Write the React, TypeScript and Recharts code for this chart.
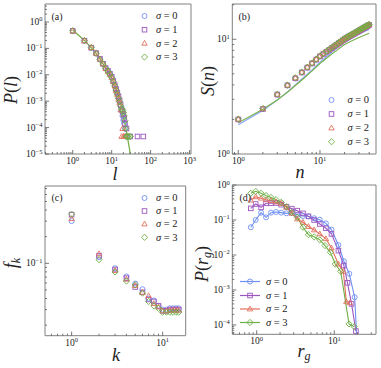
import React from 'react';
import { ComposedChart, Scatter, Line, XAxis, YAxis, ReferenceArea } from 'recharts';

const W = 381;
const H = 368;
const SERIF = '"Liberation Serif", "Times New Roman", serif';
const AXIS_COLOR = '#555';
const FRAME = '#808080';
const TEXT = '#222';
const COLORS = ['#6f8ff2', '#9c56c0', '#e2705e', '#6db044'];
const KINDS = ['circle', 'square', 'triangle', 'diamond'];
const SIGMAS = ['0', '1', '2', '3'];

// ---------- (a) P(l) ----------
const lA0 = [1, 2, 3, 4, 5, 6, 7, 8, 9, 10, 11, 12, 13, 14, 15, 16, 17, 18, 19, 20, 21, 22, 23, 25];
const pA0 = [0.46, 0.195, 0.107, 0.065, 0.039, 0.026, 0.0177, 0.0139, 0.0107, 0.0081, 0.0056, 0.0039, 0.0027, 0.0019, 0.0013, 0.00094, 0.00064, 0.00045, 0.00028, 0.00019, 0.00014, 0.000092, 0.000046, 0.000046];
const lA1 = [1, 2, 3, 4, 5, 6, 7, 8, 9, 10, 11, 12, 13, 14, 15, 16, 17, 18, 19, 20, 21, 22, 24, 30, 46, 65];
const pA1 = [0.46, 0.196, 0.106, 0.066, 0.04, 0.026, 0.018, 0.0142, 0.011, 0.0084, 0.0058, 0.0041, 0.0029, 0.0021, 0.0015, 0.00105, 0.00072, 0.0005, 0.00042, 0.00032, 0.00023, 0.00014, 0.000092, 0.000046, 0.000046, 0.000046];
const lA2 = [1, 2, 3, 4, 5, 6, 7, 8, 9, 10, 11, 12, 13, 14, 15, 16, 17, 18, 19, 20, 21, 23];
const pA2 = [0.46, 0.195, 0.107, 0.065, 0.039, 0.026, 0.0176, 0.0137, 0.0105, 0.008, 0.0054, 0.0037, 0.0025, 0.0018, 0.0012, 0.00088, 0.00046, 0.000046, 0.000092, 0.000046, 0.000046, 0.000046];
const lA3 = [1, 2, 3, 4, 5, 6, 7, 8, 9, 10, 11, 12, 13, 14, 15, 16, 17, 18, 19, 20, 21, 22, 23, 24, 25, 26, 28, 30];
const pA3 = [0.47, 0.198, 0.108, 0.064, 0.038, 0.0255, 0.0175, 0.0136, 0.0104, 0.0079, 0.0055, 0.0038, 0.0026, 0.0019, 0.0013, 0.00096, 0.00066, 0.00052, 0.00046, 0.00037, 0.00028, 0.00018, 0.000092, 0.000046, 0.000046, 0.000046, 0.000046, 0.000046];
const lFit = [1, 2, 3, 4, 5, 7, 10, 13, 16, 19, 22, 25, 28, 31, 34];
const pFit = [0.5, 0.2, 0.106, 0.064, 0.04, 0.018, 0.0078, 0.003, 0.0011, 0.0004, 0.00014, 0.00005, 0.000019, 0.0000075, 0.000003];

// ---------- (b) S(n) ----------
const nB = [1, 2, 3, 4, 5, 6, 7, 8, 9, 10, 11, 12, 13, 14, 15, 16, 17, 18, 19, 20, 21, 22, 23, 24, 25, 26, 27, 28, 29, 30, 31, 32, 33, 34, 35, 36, 37, 38, 39, 40];
const sB0 = [2.0, 2.46, 3.28, 3.95, 4.55, 5.12, 5.64, 6.13, 6.62, 7.05, 7.4, 7.72, 8.03, 8.33, 8.62, 8.9, 9.17, 9.44, 9.7, 9.94, 10.14, 10.33, 10.52, 10.71, 10.89, 11.07, 11.24, 11.4, 11.57, 11.73, 11.89, 12.05, 12.2, 12.35, 12.5, 12.64, 12.78, 12.92, 13.06, 13.2];
const sB1 = [2.0, 2.47, 3.3, 3.97, 4.57, 5.14, 5.67, 6.17, 6.66, 7.1, 7.45, 7.78, 8.1, 8.4, 8.7, 8.98, 9.26, 9.53, 9.79, 10.04, 10.24, 10.44, 10.63, 10.82, 11.0, 11.18, 11.35, 11.52, 11.69, 11.85, 12.01, 12.17, 12.33, 12.48, 12.63, 12.77, 12.92, 13.06, 13.2, 13.34];
const sB2 = [2.01, 2.48, 3.31, 3.98, 4.6, 5.16, 5.7, 6.2, 6.7, 7.14, 7.5, 7.83, 8.15, 8.46, 8.76, 9.04, 9.32, 9.6, 9.86, 10.11, 10.32, 10.52, 10.71, 10.9, 11.08, 11.26, 11.44, 11.61, 11.78, 11.94, 12.1, 12.26, 12.42, 12.57, 12.72, 12.87, 13.01, 13.15, 13.29, 13.43];
const sB3 = [2.02, 2.49, 3.32, 3.99, 4.62, 5.18, 5.72, 6.22, 6.72, 7.17, 7.53, 7.86, 8.18, 8.49, 8.79, 9.08, 9.36, 9.64, 9.9, 10.15, 10.36, 10.56, 10.75, 10.94, 11.13, 11.31, 11.49, 11.66, 11.83, 11.99, 12.15, 12.31, 12.47, 12.62, 12.77, 12.92, 13.06, 13.2, 13.34, 13.48];
const nLine = [1, 2, 3, 4, 5, 6, 8, 10, 13, 16, 20, 25, 30, 35, 40];
const sLineBlue = [1.8, 2.4, 2.95, 3.48, 4.0, 4.5, 5.4, 6.3, 7.4, 8.35, 9.4, 10.3, 11.05, 11.7, 12.2];
const sLineGreen = [1.87, 2.45, 2.95, 3.45, 3.95, 4.42, 5.3, 6.15, 7.15, 8.0, 9.0, 9.75, 10.35, 10.85, 11.3];

// ---------- (c) f_k ----------
const kC = [1, 2, 3, 4, 5, 6, 7, 8, 9, 10, 11, 12, 13, 14, 15];
const fC0 = [0.3, 0.117, 0.088, 0.071, 0.059, 0.051, 0.04, 0.038, 0.033, 0.03, 0.03, 0.031, 0.031, 0.031, 0.031];
const fC1 = [0.355, 0.122, 0.085, 0.068, 0.054, 0.047, 0.039, 0.037, 0.033, 0.029, 0.029, 0.03, 0.03, 0.03, 0.03];
const fC2 = [0.32, 0.128, 0.083, 0.066, 0.056, 0.047, 0.043, 0.035, 0.032, 0.029, 0.029, 0.0295, 0.0295, 0.0295, 0.0295];
const fC3 = [0.36, 0.11, 0.08, 0.063, 0.057, 0.046, 0.037, 0.033, 0.031, 0.028, 0.028, 0.028, 0.028, 0.028, 0.028];

// ---------- (d) P(r_g) ----------
const rD0 = [0.84, 0.97, 1.14, 1.32, 1.53, 1.78, 2.07, 2.42, 2.83, 3.33, 3.95, 4.65, 5.5, 6.5, 7.8, 9.2, 11.3, 13.3, 15.6, 18.3, 19.9];
const pD0 = [0.062, 0.1, 0.162, 0.119, 0.162, 0.169, 0.162, 0.155, 0.16, 0.142, 0.13, 0.127, 0.112, 0.102, 0.08, 0.053, 0.0193, 0.0066, 0.0029, 0.00062, 0.00002];
const rD1 = [0.84, 0.97, 1.14, 1.32, 1.53, 1.78, 2.07, 2.42, 2.83, 3.33, 3.95, 4.65, 5.5, 6.5, 7.8, 9.2, 11.3, 13.3, 14.8, 16.7, 19.0];
const pD1 = [0.215, 0.286, 0.23, 0.3, 0.3, 0.306, 0.274, 0.24, 0.211, 0.185, 0.155, 0.127, 0.1, 0.077, 0.058, 0.04, 0.0133, 0.005, 0.0016, 0.0004, 0.000067];
const rD2 = [0.84, 0.97, 1.14, 1.32, 1.53, 1.78, 2.07, 2.42, 2.83, 3.33, 3.95, 4.65, 5.5, 6.5, 7.8, 9.2, 11.3, 13.1, 14.3, 15.9];
const pD2 = [0.37, 0.46, 0.42, 0.38, 0.357, 0.327, 0.3, 0.23, 0.155, 0.107, 0.086, 0.065, 0.052, 0.04, 0.029, 0.0158, 0.0055, 0.0034, 0.00046, 0.00043];
const rD3 = [0.84, 0.97, 1.14, 1.32, 1.53, 1.78, 2.07, 2.42, 2.83, 3.33, 3.95, 4.65, 5.5, 6.5, 7.6, 8.9, 10.3, 12.1, 15.5, 18.1];
const pD3 = [0.58, 0.66, 0.58, 0.5, 0.44, 0.38, 0.32, 0.24, 0.166, 0.119, 0.062, 0.038, 0.033, 0.027, 0.0185, 0.0119, 0.0055, 0.0034, 0.000107, 0.000089];

const zip = (xs: number[], ys: number[]) => xs.map((x, i) => ({ x, y: ys[i] }));

function logTicks(min: number, max: number): number[] {
  const out: number[] = [];
  for (let e = Math.floor(Math.log10(min)); e <= Math.ceil(Math.log10(max)); e++) {
    for (let m = 1; m < 10; m++) {
      const v = parseFloat((m * Math.pow(10, e)).toPrecision(6));
      if (v >= min * 0.9999 && v <= max * 1.0001) out.push(v);
    }
  }
  return out;
}

const expStr = (lg: number) => {
  const e = Math.round(lg);
  return e < 0 ? '\u2212' + String(-e) : String(e);
};

const XTick = (props: any) => {
  const { x, y, payload } = props;
  const lg = Math.log10(payload.value);
  const major = Math.abs(lg - Math.round(lg)) < 1e-6;
  return (
    <g>
      <line x1={x} x2={x} y1={y} y2={y - (major ? 4 : 2)} stroke={AXIS_COLOR} strokeWidth={0.8} />
      {major && (
        <text x={x} y={y + 10} textAnchor="middle" fontFamily={SERIF} fontSize={9.5} fill={TEXT}>
          10<tspan dy={-3.5} fontSize={6.5}>{expStr(lg)}</tspan>
        </text>
      )}
    </g>
  );
};

const YTick = (props: any) => {
  const { x, y, payload } = props;
  const lg = Math.log10(payload.value);
  const major = Math.abs(lg - Math.round(lg)) < 1e-6;
  return (
    <g>
      <line x1={x} x2={x + (major ? 4 : 2)} y1={y} y2={y} stroke={AXIS_COLOR} strokeWidth={0.8} />
      {major && (
        <text x={x - 2.5} y={y + 3} textAnchor="end" fontFamily={SERIF} fontSize={9.5} fill={TEXT}>
          10<tspan dy={-3.5} fontSize={6.5}>{expStr(lg)}</tspan>
        </text>
      )}
    </g>
  );
};

function marker(cx: number, cy: number, kind: string, color: string, key?: any) {
  if (cx == null || cy == null || !isFinite(cx) || !isFinite(cy)) return <g key={key} />;
  const sw = 0.9;
  if (kind === 'circle') return <circle key={key} cx={cx} cy={cy} r={2.5} fill="none" stroke={color} strokeWidth={sw} />;
  if (kind === 'square') return <rect key={key} x={cx - 2.3} y={cy - 2.3} width={4.6} height={4.6} fill="none" stroke={color} strokeWidth={sw} />;
  if (kind === 'triangle')
    return <polygon key={key} points={`${cx},${cy - 2.9} ${cx - 2.7},${cy + 1.9} ${cx + 2.7},${cy + 1.9}`} fill="none" stroke={color} strokeWidth={sw} />;
  return <polygon key={key} points={`${cx},${cy - 3.1} ${cx + 3.1},${cy} ${cx},${cy + 3.1} ${cx - 3.1},${cy}`} fill="none" stroke={color} strokeWidth={sw} />;
}

type Box = { l: number; t: number; r: number; b: number };

function panel(key: string, box: Box, xd: [number, number], yd: [number, number], series: React.ReactNode[]) {
  const YW = 40;
  const XH = 20;
  const margin = { left: box.l - YW, top: box.t, right: W - box.r, bottom: H - box.b - XH };
  return (
    <div key={key} style={{ position: 'absolute', left: 0, top: 0 }}>
      <ComposedChart width={W} height={H} margin={margin}>
        <XAxis dataKey="x" type="number" scale="log" domain={xd} allowDataOverflow ticks={logTicks(xd[0], xd[1])} interval={0}
          tick={XTick} tickLine={false} axisLine={false} tickSize={0} tickMargin={0} height={XH} />
        <YAxis dataKey="y" type="number" scale="log" domain={yd} allowDataOverflow ticks={logTicks(yd[0], yd[1])} interval={0}
          tick={YTick} tickLine={false} axisLine={false} tickSize={0} tickMargin={0} width={YW} />
        <ReferenceArea x1={xd[0]} x2={xd[1]} y1={yd[0]} y2={yd[1]} fill="none" fillOpacity={0} stroke={FRAME} strokeWidth={1} ifOverflow="visible" />
        {series}
      </ComposedChart>
    </div>
  );
}

const scatterSeries = (sets: { x: number; y: number }[][], prefix: string) =>
  sets.map((d, i) => (
    <Scatter key={prefix + i} data={d} isAnimationActive={false}
      shape={(p: any) => marker(p.cx, p.cy, KINDS[i], COLORS[i])} />
  ));

function LegendRows({ mx, tx, ys, withLine }: { mx: number; tx: number; ys: number[]; withLine?: boolean }) {
  return (
    <g>
      {ys.map((y, i) => (
        <g key={i}>
          {withLine && <line x1={mx - 10} x2={mx + 10} y1={y} y2={y} stroke={COLORS[i]} strokeWidth={1.2} />}
          {marker(mx, y, KINDS[i], COLORS[i])}
          <text x={tx} y={y + 3.3} fontFamily={SERIF} fontSize={10.5} fill={TEXT}>
            <tspan fontStyle="italic">σ</tspan> = {SIGMAS[i]}
          </text>
        </g>
      ))}
    </g>
  );
}

export default function App() {
  const aSets = [zip(lA0, pA0), zip(lA1, pA1), zip(lA2, pA2), zip(lA3, pA3)];
  const bSets = [zip(nB, sB0), zip(nB, sB1), zip(nB, sB2), zip(nB, sB3)];
  const cSets = [zip(kC, fC0), zip(kC, fC1), zip(kC, fC2), zip(kC, fC3)];
  const dSets = [zip(rD0, pD0), zip(rD1, pD1), zip(rD2, pD2), zip(rD3, pD3)];

  const panelA = panel('a', { l: 45, t: 4, r: 191, b: 154 }, [0.194, 1090], [1e-5, 4.8], [
    <Line key="fit" data={zip(lFit, pFit)} dataKey="y" stroke="#74ad45" strokeWidth={1.2} dot={false} isAnimationActive={false} />,
    ...scatterSeries(aSets, 'a'),
  ]);

  const panelB = panel('b', { l: 232.3, t: 4, r: 376, b: 154 }, [0.845, 48.5], [1, 20.3], [
    <Line key="lb" data={zip(nLine, sLineBlue)} dataKey="y" stroke="#8eaaf5" strokeWidth={1.2} dot={false} isAnimationActive={false} />,
    <Line key="lg" data={zip(nLine, sLineGreen)} dataKey="y" stroke="#79b24f" strokeWidth={1.2} dot={false} isAnimationActive={false} />,
    ...scatterSeries(bSets, 'b'),
  ]);

  const panelC = panel('c', { l: 45, t: 186, r: 185.7, b: 335.7 }, [0.51, 17.9], [0.0152, 0.748], [...scatterSeries(cSets, 'c')]);

  const panelD = panel('d', { l: 232.3, t: 185, r: 376, b: 334.3 }, [0.485, 34.5], [5.4e-5, 1], dSets.map((d, i) => (
    <Line key={'d' + i} data={d} dataKey="y" stroke={COLORS[i]} strokeWidth={1.1} isAnimationActive={false}
      dot={(p: any) => marker(p.cx, p.cy, KINDS[i], COLORS[i], 'dd' + i + '-' + p.index)} />
  )));

  return (
    <div style={{ position: 'fixed', left: 0, top: 0, width: W, height: H, background: '#fff' }}>
      {panelA}
      {panelB}
      {panelC}
      {panelD}
      <svg width={W} height={H} style={{ position: 'absolute', left: 0, top: 0, pointerEvents: 'none' }}>
        <g fontFamily={SERIF} fill={TEXT}>
          <text x={51.5} y={19.8} fontSize={10}>(a)</text>
          <text x={238.5} y={19.8} fontSize={10}>(b)</text>
          <text x={51.5} y={200.5} fontSize={10}>(c)</text>
          <text x={239.5} y={200.5} fontSize={10}>(d)</text>

          <text transform="translate(17,90) rotate(-90)" textAnchor="middle" fontSize={18}>
            <tspan fontStyle="italic">P</tspan>(<tspan fontStyle="italic">l</tspan>)
          </text>
          <text x={115} y={180} textAnchor="middle" fontSize={18} fontStyle="italic">l</text>

          <text transform="translate(214,81) rotate(-90)" textAnchor="middle" fontSize={18}>
            <tspan fontStyle="italic">S</tspan>(<tspan fontStyle="italic">n</tspan>)
          </text>
          <text x={300} y={178} textAnchor="middle" fontSize={18} fontStyle="italic">n</text>

          <text transform="translate(17,263) rotate(-90)" textAnchor="middle" fontSize={18}>
            <tspan fontStyle="italic">f</tspan><tspan fontStyle="italic" fontSize={12} dy={3}>k</tspan>
          </text>
          <text x={116} y={361} textAnchor="middle" fontSize={18} fontStyle="italic">k</text>

          <text transform="translate(208,264) rotate(-90)" textAnchor="middle" fontSize={18}>
            <tspan fontStyle="italic">P</tspan>(<tspan fontStyle="italic">r</tspan><tspan fontStyle="italic" fontSize={12} dy={3}>g</tspan><tspan dy={-3}>)</tspan>
          </text>
          <text x={304} y={357} textAnchor="middle" fontSize={18} fontStyle="italic">
            r<tspan fontSize={12} dy={3}>g</tspan>
          </text>
        </g>
        <LegendRows mx={144.5} tx={156} ys={[16, 29.7, 43.3, 57]} />
        <LegendRows mx={331.5} tx={347.5} ys={[100, 114, 128, 141.7]} />
        <LegendRows mx={144.5} tx={156} ys={[198, 211, 224, 237.3]} />
        <LegendRows mx={250} tx={266} ys={[281.5, 295.5, 309, 322.5]} withLine />
      </svg>
    </div>
  );
}
